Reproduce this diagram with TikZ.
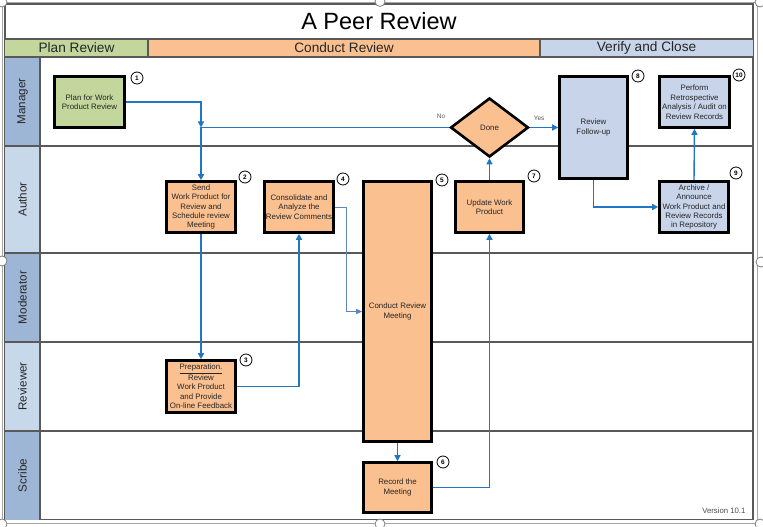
\documentclass[tikz,border=0pt]{standalone}
\usepackage{fontspec}
\setmainfont{Liberation Sans}
\usetikzlibrary{arrows.meta,shapes.geometric,positioning}

\definecolor{orangebox}{HTML}{FAC090}
\definecolor{greenbox}{HTML}{C3D69B}
\definecolor{bluebox}{HTML}{C8D4EA}
\definecolor{lanedark}{HTML}{9DB6D6}
\definecolor{lanelight}{HTML}{C8D8EB}
\definecolor{flowblue}{HTML}{2277C4}
\definecolor{thinblue}{HTML}{5F86BC}
\definecolor{framegray}{HTML}{595959}

\tikzset{
  procbox/.style={draw=black, line width=2.6bp, fill=orangebox, align=center, inner sep=0pt,
    minimum width=69bp, minimum height=51bp, text=black!85,
    font=\fontsize{7.9}{9.5}\selectfont},
  numtag/.style={circle, draw=black, line width=0.8bp, fill=white, inner sep=0pt,
    minimum size=12bp, font=\fontsize{6.5}{7}\selectfont\bfseries},
  flow/.style={draw=flowblue, line width=1.4bp, -{Triangle[length=6bp,width=6bp]}},
  lanelbl/.style={rotate=90, font=\fontsize{11.7}{13}\selectfont, text=black!85},
  phasetxt/.style={font=\fontsize{13.7}{15}\selectfont, text=black!85},
  grid/.style={draw=framegray, line width=1.3bp},
  handle/.style={circle, draw=gray, fill=white, line width=0.8bp, minimum size=10bp, inner sep=0pt},
  smalltxt/.style={font=\fontsize{6.5}{7}\selectfont, text=black!65}
}

\begin{document}
\begin{tikzpicture}[x=1bp, y=-1bp]
    \useasboundingbox (0,0) rectangle (763,527);
    \fill[white] (0,0) rectangle (763,527);

    % Frames
    \draw[gray!70, line width=0.8bp] (2.5,2.5) rectangle (757.5,523);
    \draw[grid] (5,4) rectangle (753,519.5);
    \node[font=\fontsize{23.6}{26}\selectfont] (title) at (379,21) {A Peer Review};

    % Phase header
    \fill[greenbox] (5,39) rectangle (148,57);
    \fill[orangebox] (148,39) rectangle (540,57);
    \fill[bluebox] (540,39) rectangle (753,57);
    \draw[grid] (5,39) -- (753,39) (148,39) -- (148,57) (540,39) -- (540,57);
    \node[phasetxt] (plan-ph) at (76.5,48) {Plan Review};
    \node[phasetxt] (cond-ph) at (344,48) {Conduct Review};
    \node[phasetxt] (ver-ph) at (646.5,48) {Verify and Close};

    % Swim lanes
    \fill[lanedark] (5,57) rectangle (40,146);
    \fill[lanelight] (5,146) rectangle (40,253);
    \fill[lanedark] (5,253) rectangle (40,342);
    \fill[lanelight] (5,342) rectangle (40,431);
    \fill[lanedark] (5,431) rectangle (40,519.5);
    \foreach \y in {57,146,253,342,431}
        \draw[grid] (5,\y) -- (753,\y);
    \draw[grid] (40,57) -- (40,519.5);
    \foreach \lname/\y in {Manager/101.5, Author/199.5, Moderator/297.5, Reviewer/386.5, Scribe/475.5}
        \node[lanelbl] (lane-\lname) at (22.5,\y) {\lname};

    % Steps
    \node[procbox, fill=greenbox, minimum width=70bp] (plan) at (89.5,102) {Plan for Work\\Product Review};
    \node[procbox] (send) at (201,207) {Send\\Work Product for\\Review and\\Schedule review\\Meeting};
    \node[procbox, minimum height=52bp] (prep) at (201,386.5) {\underline{Preparation.}\\[1bp]Review\\Work Product\\and Provide\\On-line Feedback};
    \node[procbox] (cons) at (299,207) {Consolidate and\\Analyze the\\Review Comments};
    \node[procbox, minimum width=68bp, minimum height=260bp] (meet) at (397.5,311.5) {Conduct Review\\Meeting};
    \node[procbox, minimum width=68bp, minimum height=50bp] (rec) at (397.5,487.5) {Record the\\Meeting};
    \node[procbox, minimum width=68bp] (upd) at (489.5,207) {Update Work\\Product};
    \node[procbox, diamond, minimum width=78bp, minimum height=59bp] (done) at (489.5,127.5) {Done};
    \node[procbox, fill=bluebox, minimum width=68bp, minimum height=102bp] (fol) at (593.5,127.5) {Review\\Follow-up};
    \node[procbox, fill=bluebox] (arch) at (694,207) {Archive /\\Announce\\Work Product and\\Review Records\\in Repository};
    \node[procbox, fill=bluebox, minimum width=70bp] (perf) at (694.5,102) {Perform\\Retrospective\\Analysis / Audit on\\Review Records};

    % Step numbers
    \foreach \n/\px/\py in {1/137/78, 2/245/177, 3/246/360, 4/343/179, 5/442/180,
                            6/443/462, 7/534/176, 8/638/76, 9/736/173, 10/739/75}
        \node[numtag] (num\n) at (\px,\py) {\n};

    % Flow
    \coordinate (j1) at (201,127.5);
    \draw[flow] (plan.east) -| (j1);
    \draw[flow, -] (done.west) -- (j1)
        node[at start, anchor=south east, yshift=5bp, smalltxt] (no) {No};
    \draw[flow] (j1) -- (send.north);
    \draw[flow] (send.south) -- (prep.north);
    \draw[flow] (prep.east) -| (cons.south);
    \draw[draw=thinblue, line width=0.9bp, -{Triangle[length=6bp,width=5bp]}]
        (cons.east) -- ++(12,0) |- (meet.west);
    \draw[flow] (meet.south) -- (rec.north);
    \draw[flow] (rec.east) -| (upd.south);
    \draw[flow] (upd.north) -- (done.south);
    \draw[flow] (done.east) -- (fol.west)
        node[at start, anchor=south west, yshift=3bp, smalltxt] (yes) {Yes};
    \draw[flow] (fol.south) |- (arch.west);
    \draw[flow] (arch.north) -- (perf.south);

    \node[anchor=east, font=\fontsize{7.8}{9}\selectfont, text=black!70] (ver) at (749,511) {Version 10.1};

    % Object handles
    \foreach \hx/\hy [count=\k] in {2/2, 380/1.5, 760/2, 2/261, 761/262, 2/524, 380/524, 760/524}
        \node[handle] (h\k) at (\hx,\hy) {};
\end{tikzpicture}
\end{document}
